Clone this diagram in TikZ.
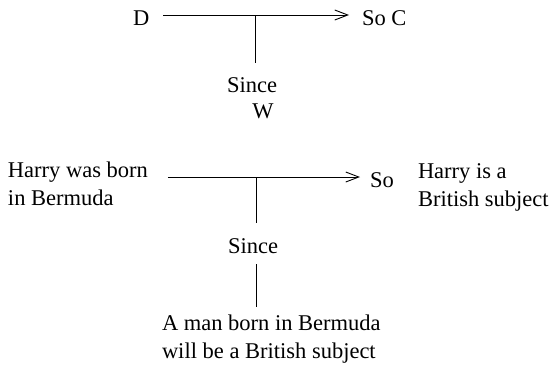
\documentclass[tikz,border=0pt]{standalone}
\usepackage{fontspec}
\setmainfont{Liberation Serif}
\usetikzlibrary{arrows.meta,calc}
\begin{document}
\begin{tikzpicture}[x=1pt,y=-1pt,
  lbl/.style={inner sep=0pt,outer sep=0pt,font=\fontsize{22.5}{28}\selectfont},
  link/.style={line width=0.9pt},
  arr/.style={link,-{Straight Barb[length=13pt,width=10pt,line width=0.9pt]}}]
\useasboundingbox (0,0) rectangle (552,372);
% block 1
\node[lbl,anchor=base west] (D) at (133,25) {D};
\node[lbl,anchor=base west] (soc) at (362,25) {So C};
\coordinate (j1) at (255,15);
\node[lbl,anchor=base] (since1) at (252,92) {Since};
\node[lbl,anchor=base] (w) at (263,118) {W};
\draw[arr] ($(D.east |- j1)+(14,0)$) -- ($(soc.west |- j1)+(-13,0)$);
\draw[link] (j1) -- ($(j1 |- since1.north)+(0,-14)$);
% block 2
\node[lbl,anchor=base west,align=left] (h1) at (8,205) {Harry was born\\in Bermuda};
\node[lbl,anchor=base west] (so) at (370,187) {So};
\node[lbl,anchor=base west,align=left] (h2) at (418,206) {Harry is a\\British subject};
\coordinate (j2) at (256,177);
\node[lbl,anchor=base] (since2) at (253,253) {Since};
\node[lbl,anchor=base west,align=left] (man) at (162,358) {A man born in Bermuda\\will be a British subject};
\draw[arr] ($(h1.east |- j2)+(20,0)$) -- ($(so.west |- j2)+(-10,0)$);
\draw[link] (j2) -- ($(j2 |- since2.north)+(0,-15)$);
\draw[link] ($(j2 |- since2.south)+(0,11)$) -- ($(j2 |- man.north)+(0,-7)$);
\end{tikzpicture}
\end{document}
